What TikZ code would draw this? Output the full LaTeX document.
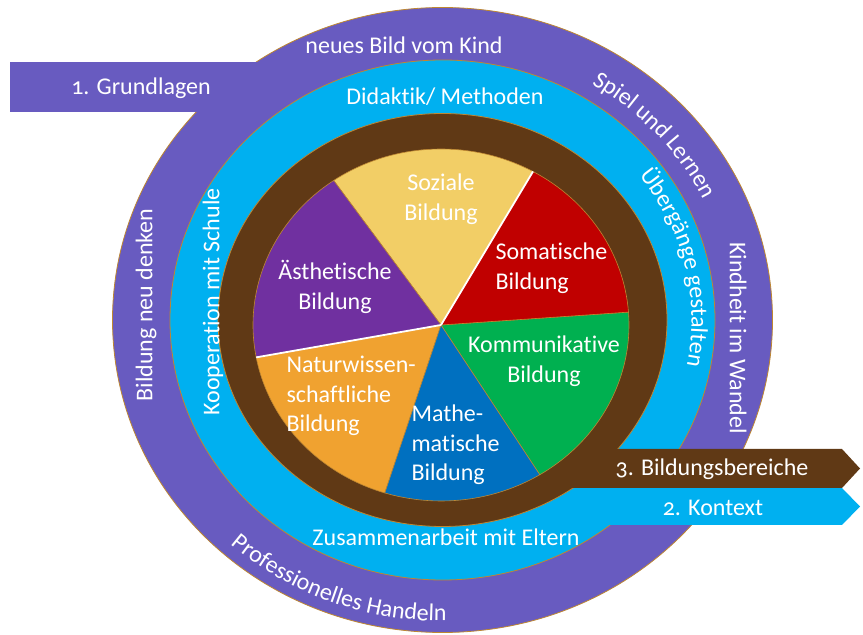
\documentclass[tikz,border=0pt]{standalone}
\usepackage{fontspec}
\setmainfont{Carlito}[Numbers=OldStyle, Ligatures=NoCommon]
\usetikzlibrary{positioning, decorations.text}

\definecolor{ringpurple}{RGB}{104,91,192}
\definecolor{ringcyan}{RGB}{0,176,240}
\definecolor{ringbrown}{RGB}{96,57,21}
\definecolor{rimgold}{RGB}{190,135,50}
\definecolor{sozial}{RGB}{242,206,102}
\definecolor{somatisch}{RGB}{192,0,0}
\definecolor{kommunikativ}{RGB}{0,176,80}
\definecolor{mathematisch}{RGB}{0,112,192}
\definecolor{natur}{RGB}{240,162,48}
\definecolor{aesthetisch}{RGB}{112,48,160}

\newcommand{\ringfont}{\fontsize{24}{29}\selectfont}

\tikzset{
	ringtext/.style={text=white, font=\ringfont},
	pietext/.style={text=white, font=\fontsize{24}{29.5}\selectfont, align=center},
	rim/.style={draw=rimgold, line width=0.8pt},
	slice/.style={draw=rimgold, line width=0.6pt},
	bend text/.style={decorate,
		decoration={text along path, text align=center,
			text color=white, text={|\ringfont|#1}}}
}

\begin{document}
\begin{tikzpicture}[x=1pt, y=1pt]
	\useasboundingbox (0,0) rectangle (863,635);
	\coordinate (rc) at (442.5,315);
	\coordinate (pc) at (441,310);

	% Add the rings
		\filldraw[rim, fill=ringpurple] (rc) ellipse [x radius=330, y radius=312.5];
		\fill[ringpurple] (10,523) rectangle (300,573);
		\filldraw[rim, fill=ringcyan] (rc) ellipse [x radius=272.5, y radius=260];
		\fill[ringcyan] (560,110) -- (842,110) -- (860,128.5) -- (842,147) -- (560,147) -- cycle;
		\filldraw[rim, fill=ringbrown] (rc) ellipse [x radius=224.5, y radius=206.5];
		\fill[ringbrown] (545,147) -- (842,147) -- (860,166.5) -- (842,186) -- (545,186) -- cycle;

	% Add the pie
		\filldraw[slice, fill=kommunikativ] (pc) -- ++(-58.3:188 and 176)
			arc[start angle=-58.3, end angle=4.2, x radius=188, y radius=176] -- cycle;
		\filldraw[slice, fill=somatisch] (pc) -- ++(4.2:188 and 176)
			arc[start angle=4.2, end angle=60.7, x radius=188, y radius=176] -- cycle;
		\filldraw[slice, fill=sozial] (pc) -- ++(60.7:188 and 176)
			arc[start angle=60.7, end angle=124.8, x radius=188, y radius=176] -- cycle;
		\filldraw[slice, fill=aesthetisch] (pc) -- ++(124.8:188 and 176)
			arc[start angle=124.8, end angle=190.6, x radius=188, y radius=176] -- cycle;
		\filldraw[slice, fill=natur] (pc) -- ++(190.6:188 and 176)
			arc[start angle=190.6, end angle=252.6, x radius=188, y radius=176] -- cycle;
		\filldraw[slice, fill=mathematisch] (pc) -- ++(252.6:188 and 176)
			arc[start angle=252.6, end angle=301.7, x radius=188, y radius=176] -- cycle;
		\draw[white, line width=1.8pt] (pc) -- ++(60.7:188 and 176);
		\draw[white, line width=1.8pt] (pc) -- ++(190.6:188 and 176);

	% Add the labels
		\node[pietext] (soz) at (441,436) {Soziale\\Bildung};
		\node[pietext,
			anchor=west,
			align=left] (som) at (492,367) {Somatische\\Bildung};
		\node[pietext] (aes) at (335,348) {Ästhetische\\Bildung};
		\node[pietext] (kom) at (544,274) {Kommunikative\\Bildung};
		\node[pietext,
			anchor=west,
			align=left] (nat) at (283,239) {Naturwissen-\\schaftliche\\Bildung};
		\node[pietext,
			anchor=west,
			align=left] (mat) at (408,190) {Mathe-\\matische\\Bildung};

		\node[ringtext] (bild) at (404,590) {neues Bild vom Kind};
		\node[ringtext] (grund) at (141,547) {1. Grundlagen};
		\node[ringtext] (didak) at (445,538) {Didaktik/ Methoden};
		\node[ringtext] (eltern) at (446,98) {Zusammenarbeit mit Eltern};
		\node[ringtext,
			rotate=90] (neu) at (146,330) {Bildung neu denken};
		\node[ringtext,
			rotate=90] (koop) at (213,333) {Kooperation mit Schule};
		\node[ringtext,
			rotate=-90] (wandel) at (738,297) {Kindheit im Wandel};
		\node[ringtext] (bereiche) at (712,166) {3. Bildungsbereiche};
		\node[ringtext] (kontext) at (713,127) {2. Kontext};

		\path[bend text={Spiel und Lernen}] (rc) ++(82:290 and 275)
			arc[start angle=82, end angle=2, x radius=290, y radius=275];
		\path[bend text={Übergänge gestalten}] (rc) ++(63:249 and 236)
			arc[start angle=63, end angle=-37, x radius=249, y radius=236];
		\path[bend text={Professionelles Handeln}] (rc) ++(199:318 and 301)
			arc[start angle=199, end angle=299, x radius=318, y radius=301];
\end{tikzpicture}
\end{document}
